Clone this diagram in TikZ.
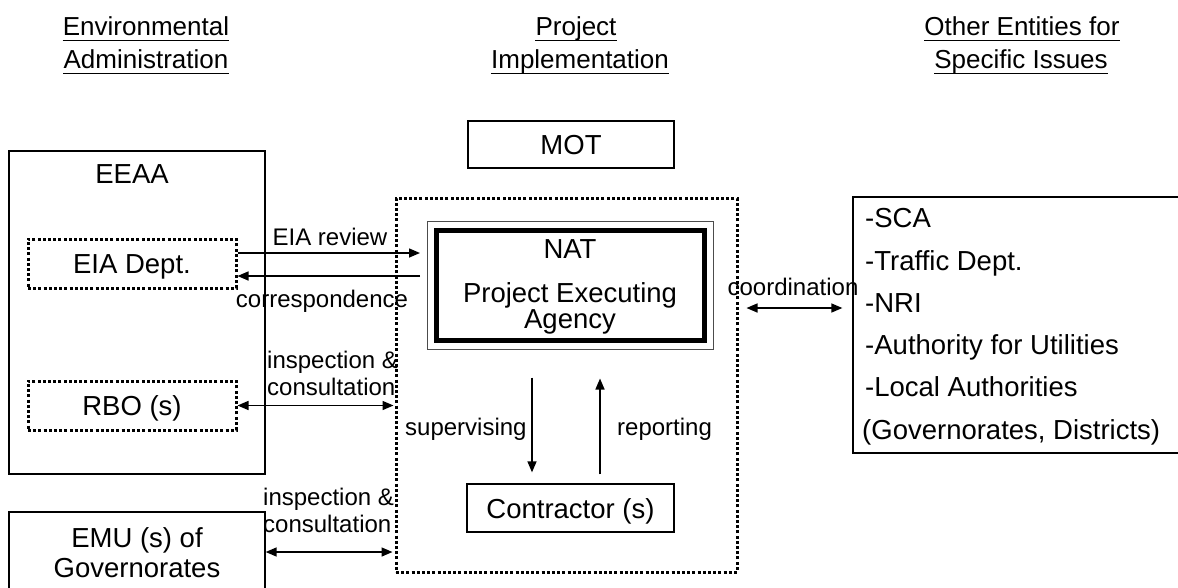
\documentclass[tikz,border=0pt]{standalone}
\usepackage{fontspec}
\setmainfont{Liberation Sans}
\usetikzlibrary{arrows.meta}
\begin{document}
\begin{tikzpicture}[x=1pt,y=-1pt,
  box/.style={draw, line width=1.3pt, inner sep=0pt, text height=20pt, text depth=0pt},
  dotbox/.style={draw, line width=3pt, dash pattern=on 3pt off 2.2pt, inner sep=0pt, text height=20pt, text depth=0pt},
  txt/.style={font=\fontsize{27.5}{33}\selectfont, inner sep=0pt, anchor=base},
  lbl/.style={font=\fontsize{24}{28}\selectfont, inner sep=0pt, anchor=base west},
  hdr/.style={font=\fontsize{26}{30}\selectfont, inner sep=0pt, anchor=base},
  uline/.style={line width=1.6pt},
  arr/.style={line width=1.5pt, -{Triangle[length=11pt,width=9pt]}},
  darr/.style={line width=1.5pt, {Triangle[length=11pt,width=9pt]}-{Triangle[length=11pt,width=9pt]}},
  every node/.append style={font=\fontsize{27.5}{33}\selectfont}
]
\useasboundingbox (0,0) rectangle (1178,587);
\clip (0,0) rectangle (1178,587);

% headers
\node[hdr] (h1) at (146,35) {Environmental};
\node[hdr] (h2) at (146,68) {Administration};
\node[hdr] (h3) at (576,35) {Project};
\node[hdr] (h4) at (580,68) {Implementation};
\node[hdr] (h5) at (1022,35) {Other Entities for};
\node[hdr] (h6) at (1021,68) {Specific Issues};
\foreach \h in {h1,h2,h3,h4,h5,h6}
  \draw[uline] ([yshift=-5.5pt]\h.base west) -- ([yshift=-5.5pt]\h.base east);

% left column
\node[box, minimum width=256pt, minimum height=323pt] (eeaa) at (137,312.5) {};
\node[txt] (eeaaT) at (132,183) {EEAA};
\node[dotbox, minimum width=208pt, minimum height=49pt] (eia) at (132,263.5) {EIA Dept.};
\node[dotbox, minimum width=208pt, minimum height=49pt] (rbo) at (132,405.5) {RBO (s)};
\node[box, minimum width=256pt, minimum height=120pt] (emu) at (137,572) {};
\node[txt] (emuT1) at (137,547) {EMU (s) of};
\node[txt] (emuT2) at (137,577) {Governorates};

% middle
\node[box, minimum width=206pt, minimum height=47pt] (mot) at (571,144.5) {MOT};
\node[dotbox, minimum width=341pt, minimum height=374pt] (proj) at (566.5,385) {};
\node[draw, line width=5pt, inner sep=0pt, minimum width=268pt, minimum height=110pt] (nat) at (570.5,285.5) {};
\draw[line width=1pt, black!70] ([shift={(-6.5pt,6.5pt)}]nat.north west) rectangle ([shift={(6.5pt,-6.5pt)}]nat.south east);
\node[txt] (natT1) at (570,258) {NAT};
\node[txt] (natT2) at (570,302) {Project Executing};
\node[txt] (natT3) at (570,328) {Agency};
\node[box, minimum width=207pt, minimum height=48pt] (con) at (570.5,508) {Contractor (s)};

% right
\node[box, minimum width=337pt, minimum height=256pt] (oth) at (1021.5,325) {};
\node[txt, anchor=base west] (o1) at (865,227) {-SCA};
\node[txt, anchor=base west] (o2) at (865,270) {-Traffic Dept.};
\node[txt, anchor=base west] (o3) at (865,312) {-NRI};
\node[txt, anchor=base west] (o4) at (865,354) {-Authority for Utilities};
\node[txt, anchor=base west] (o5) at (865,396) {-Local Authorities};
\node[txt, anchor=base west] (o6) at (862,439) {(Governorates, Districts)};

% connectors
\coordinate (y1) at (0,253);
\coordinate (y2) at (0,276);
\coordinate (y3) at (0,552);
\coordinate (y4) at (0,308);
\coordinate (sx) at (532,0);
\coordinate (rx) at (600,0);
\draw[arr, shorten >=14pt] (eia.east |- y1) -- (nat.west |- y1);
\draw[arr, shorten <=14pt] (nat.west |- y2) -- (eia.east |- y2);
\draw[darr, shorten >=1pt] (rbo.east) -- (rbo.east -| proj.west);
\draw[darr, shorten >=2pt] (emu.east |- y3) -- (proj.west |- y3);
\draw[darr, shorten <=8pt, shorten >=10pt] (proj.east |- y4) -- (oth.west |- y4);
\draw[arr, shorten <=34.5pt, shorten >=11pt] (nat.south -| sx) -- (con.north -| sx);
\draw[arr, shorten <=9pt, shorten >=35.5pt] (con.north -| rx) -- (nat.south -| rx);

% labels
\node[lbl, anchor=base] (l1) at (330,245) {EIA review};
\node[lbl, anchor=base] (l2) at (322,307) {correspondence};
\node[lbl] (l3) at (267,368) {inspection \&};
\node[lbl] (l4) at (267,395) {consultation};
\node[lbl] (l5) at (263,505) {inspection \&};
\node[lbl] (l6) at (263,532) {consultation};
\node[lbl, anchor=base] (l7) at (793,295) {coordination};
\node[lbl] (l8) at (405,435) {supervising};
\node[lbl] (l9) at (617,435) {reporting};
\end{tikzpicture}
\end{document}
